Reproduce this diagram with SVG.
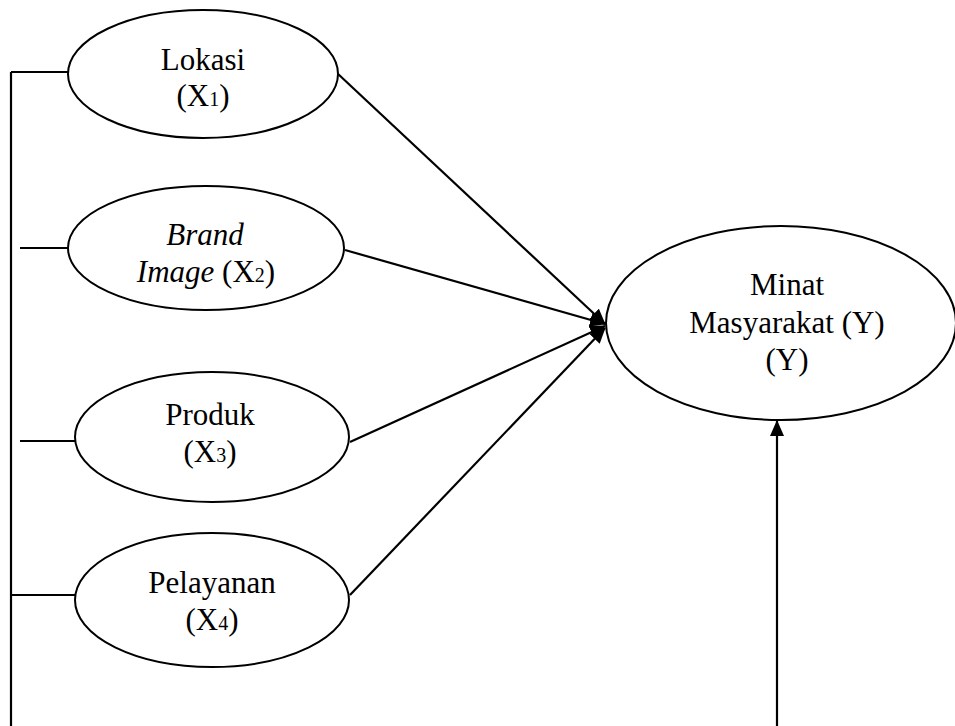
<svg xmlns="http://www.w3.org/2000/svg" width="955" height="726" viewBox="0 0 955 726">
<style>
.node ellipse{fill:#fff;stroke:#000;stroke-width:2}
text{font-family:'Liberation Serif','Times New Roman',serif;font-size:31px;fill:#000;text-anchor:middle}
.sub{font-size:20px}
.c line{stroke:#000;stroke-width:2.2;fill:none}
</style>
<defs>
<marker id="ah" viewBox="0 0 16 14" refX="15" refY="7" markerWidth="16" markerHeight="14" markerUnits="userSpaceOnUse" orient="auto">
<path d="M0,0 L16,7 L0,14 Z" fill="#000"/>
</marker>
</defs>
<g class="c" id="connectors">
<line x1="11" y1="72" x2="11" y2="726"/>
<line x1="11" y1="72" x2="69" y2="72"/>
<line x1="20" y1="248" x2="68" y2="248"/>
<line x1="20" y1="441" x2="75" y2="441"/>
<line x1="11" y1="595" x2="75" y2="595"/>
<line x1="337" y1="73" x2="605" y2="324" marker-end="url(#ah)"/>
<line x1="345" y1="250" x2="605" y2="324" marker-end="url(#ah)"/>
<line x1="350" y1="442" x2="605" y2="326" marker-end="url(#ah)"/>
<line x1="350" y1="595" x2="605" y2="328" marker-end="url(#ah)"/>
<line x1="777" y1="726" x2="777" y2="421" marker-end="url(#ah)"/>
</g>
<g class="node" id="n1">
<ellipse cx="203" cy="74" rx="135" ry="64"/>
<text x="203" y="70">Lokasi</text>
<text x="203" y="106">(X<tspan class="sub">1</tspan>)</text>
</g>
<g class="node" id="n2">
<ellipse cx="206" cy="248" rx="138" ry="62"/>
<text x="205" y="245" font-style="italic">Brand</text>
<text x="206" y="282"><tspan font-style="italic">Image</tspan> (X<tspan class="sub">2</tspan>)</text>
</g>
<g class="node" id="n3">
<ellipse cx="212" cy="437" rx="137" ry="65"/>
<text x="210" y="425">Produk</text>
<text x="210" y="462">(X<tspan class="sub">3</tspan>)</text>
</g>
<g class="node" id="n4">
<ellipse cx="212" cy="600" rx="137" ry="67"/>
<text x="212" y="593">Pelayanan</text>
<text x="212" y="630">(X<tspan class="sub">4</tspan>)</text>
</g>
<g class="node" id="ny">
<ellipse cx="781" cy="323" rx="175" ry="97"/>
<text x="787" y="295">Minat</text>
<text x="787" y="333">Masyarakat (Y)</text>
<text x="787" y="370">(Y)</text>
</g>
</svg>
